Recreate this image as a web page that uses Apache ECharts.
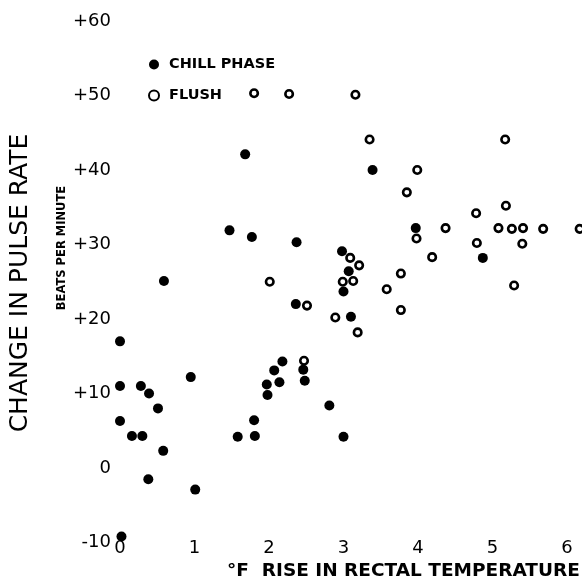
<!DOCTYPE html>
<html>
<head>
<meta charset="utf-8">
<script src="https://cdn.jsdelivr.net/npm/echarts@6/dist/echarts.min.js"></script>
<style>
  html, body { margin: 0; padding: 0; background: #fff; }
  #main { width: 582px; height: 581px; }
</style>
</head>
<body>
<div id="main"></div>
<script>
// chill phase points: [rise in rectal temp (F), change in pulse rate]
var chillPhase = [
    [0.00, 11.0], [0.28, 11.0], [0.39, 10.0], [0.51, 8.0], [0.00, 6.3],
    [0.16, 4.3], [0.30, 4.3], [0.58, 2.3], [0.38, -1.5], [1.01, -2.9],
    [0.95, 12.2], [1.58, 4.2], [1.81, 4.3], [1.80, 6.4], [1.97, 11.2],
    [1.98, 9.8], [2.14, 11.5], [2.07, 13.1], [0.02, -9.2], [2.48, 11.7],
    [2.81, 8.4], [3.00, 4.2], [1.47, 31.9], [1.77, 31.0], [2.37, 30.3],
    [0.59, 25.1], [2.36, 22.0], [0.00, 17.0], [2.18, 14.3], [1.68, 42.1],
    [3.39, 40.0], [3.97, 32.2], [4.87, 28.2], [2.98, 29.1], [3.07, 26.4],
    [3.00, 23.7], [3.10, 20.3], [2.46, 13.2]
];
// flush points
var flush = [
    [1.80, 50.3], [2.27, 50.2], [3.16, 50.1], [3.35, 44.1], [5.17, 44.1],
    [3.99, 40.0], [3.85, 37.0], [5.18, 35.2], [4.78, 34.2], [3.98, 30.8],
    [4.37, 32.2], [5.08, 32.2], [5.26, 32.1], [5.41, 32.2], [5.68, 32.1],
    [6.17, 32.1], [4.79, 30.2], [5.40, 30.1], [4.19, 28.3], [5.29, 24.5],
    [3.09, 28.2], [3.21, 27.2], [2.99, 25.0], [3.13, 25.1], [3.77, 26.1],
    [3.58, 24.0], [3.77, 21.2], [2.51, 21.8], [2.89, 20.2], [3.19, 18.2],
    [2.47, 14.4], [2.01, 25.0]
];
var xTicks = [0, 1, 2, 3, 4, 5, 6];
var yTicks = [-10, 0, 10, 20, 30, 40, 50, 60];

var myChart = echarts.init(document.getElementById('main'));

var option = {
    backgroundColor: '#fff',
    animation: false,
    textStyle: { fontFamily: 'DejaVu Sans', color: '#000' },
    legend: {
        orient: 'vertical',
        left: 143,
        top: 52,
        itemWidth: 10,
        itemHeight: 10,
        itemGap: 16,
        textStyle: { fontFamily: 'DejaVu Sans', fontWeight: 'bold', fontSize: 14.5, color: '#000', padding: [0, 0, 0, 5] },
        data: ['CHILL PHASE', 'FLUSH']
    },
    grid: { left: 120, right: 15, top: 21, bottom: 38.5 },
    xAxis: {
        type: 'value',
        min: xTicks[0],
        max: xTicks[xTicks.length - 1],
        interval: 1,
        axisLine: { show: false },
        axisTick: { show: false },
        splitLine: { show: false },
        axisLabel: { margin: -3, fontSize: 18, color: '#000', fontFamily: 'DejaVu Sans' }
    },
    yAxis: {
        type: 'value',
        min: yTicks[0],
        max: yTicks[yTicks.length - 1],
        interval: 10,
        axisLine: { show: false },
        axisTick: { show: false },
        splitLine: { show: false },
        axisLabel: {
            margin: 9, fontSize: 18, color: '#000', fontFamily: 'DejaVu Sans',
            formatter: function (v) { return v > 0 ? '+' + v : '' + v; }
        }
    },
    graphic: [
        {
            type: 'text', left: 227, top: 562,
            style: { text: '°F  RISE IN RECTAL TEMPERATURE', fontFamily: 'DejaVu Sans', fontWeight: 'bold', fontSize: 18.5, fill: '#000' }
        },
        {
            type: 'text', x: 20, y: 283, rotation: Math.PI / 2,
            style: { text: 'CHANGE IN PULSE RATE', fontFamily: 'DejaVu Sans', fontSize: 25, fill: '#000', align: 'center', verticalAlign: 'middle' }
        },
        {
            type: 'text', x: 62, y: 248, rotation: Math.PI / 2,
            style: { text: 'BEATS PER MINUTE', fontFamily: 'DejaVu Sans', fontWeight: 'bold', fontSize: 11.5, fill: '#000', align: 'center', verticalAlign: 'middle' }
        }
    ],
    series: [
        {
            name: 'CHILL PHASE',
            type: 'scatter',
            clip: false,
            symbol: 'circle',
            symbolSize: 10,
            itemStyle: { color: '#000', opacity: 1 },
            data: chillPhase
        },
        {
            name: 'FLUSH',
            type: 'scatter',
            clip: false,
            symbol: 'circle',
            symbolSize: 7.5,
            itemStyle: { color: '#fff', borderColor: '#000', borderWidth: 2.6, opacity: 1 },
            data: flush
        }
    ]
};
myChart.setOption(option);
</script>
</body>
</html>
